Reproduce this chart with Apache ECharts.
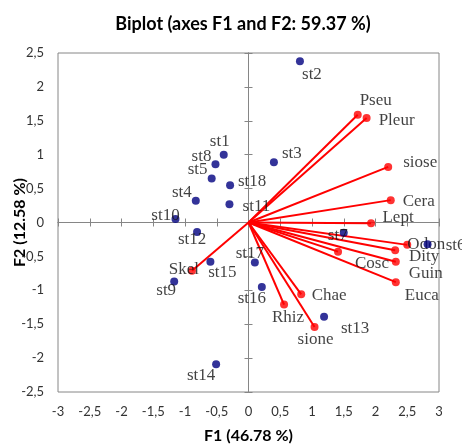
<!DOCTYPE html>
<html>
<head>
<meta charset="utf-8">
<script src="https://cdn.jsdelivr.net/npm/echarts@6/dist/echarts.min.js"></script>
<style>
  html, body { margin: 0; padding: 0; background: #fff; }
  #chart { width: 462px; height: 446px; }
</style>
</head>
<body>
<div id="chart"></div>
<script>
// observations (blue dots)
const stationNames = ['st1', 'st2', 'st3', 'st4', 'st5', 'st6', 'st7', 'st8', 'st9',
  'st10', 'st11', 'st12', 'st13', 'st14', 'st15', 'st16', 'st17', 'st18']
const stationF1 = [-0.39, 0.81, 0.40, -0.83, -0.58, 2.82, 1.50, -0.52, -1.17,
  -1.15, -0.30, -0.81, 1.19, -0.51, -0.60, 0.21, 0.10, -0.29]
const stationF2 = [1.00, 2.38, 0.89, 0.32, 0.65, -0.32, -0.15, 0.86, -0.87,
  0.05, 0.27, -0.14, -1.39, -2.09, -0.58, -0.95, -0.59, 0.55]

// variables (red vectors)
const variableNames = ['Pseu', 'Pleur', 'siose', 'Cera', 'Lept', 'Odon', 'Dity',
  'Cosc', 'Guin', 'Euca', 'Chae', 'Rhiz', 'sione', 'Skel']
const variableF1 = [1.72, 1.86, 2.20, 2.24, 1.93, 2.50, 2.31, 1.41, 2.32, 2.32, 0.83, 0.56, 1.04, -0.89]
const variableF2 = [1.59, 1.54, 0.82, 0.33, -0.01, -0.33, -0.41, -0.43, -0.58, -0.88, -1.06, -1.21, -1.54, -0.71]

// axis ranges
const xRange = [-3, 3]
const yRange = [-2.5, 2.5]
const tickStep = 0.5

// where each label sits relative to its point (px)
const labelOffsets = {
  st1: [-4, -13], st2: [12, 13], st3: [18, -9], st4: [-14, -8], st5: [-14, -9],
  st6: [28, 1], st7: [-6, 3], st8: [-14, -8], st9: [-8, 9], st10: [-10, -4],
  st11: [27, 2], st12: [-5, 8], st13: [31, 12], st14: [-15, 11], st15: [12, 11],
  st16: [-10, 12], st17: [-5, -9], st18: [22, -4],
  Pseu: [18, -14], Pleur: [30, 2], siose: [32, -4], Cera: [28, 1], Lept: [27, -6],
  Odon: [19, 0], Dity: [29, 6], Cosc: [34, 12], Guin: [30, 12], Euca: [26, 13],
  Chae: [28, 1], Rhiz: [4, 13], sione: [1, 13], Skel: [-8, -1]
}

const labelFont = {
  fontFamily: 'Liberation Serif',
  fontSize: 17,
  color: '#111'
}

const nameFont = { fontFamily: 'Lato', fontWeight: 'bold', fontSize: 16, color: '#000' }
const tickFont = { fontFamily: 'Lato', fontSize: 13, color: '#333' }

function fmt(v) {
  return String(v).replace('.', ',')
}

function pointData(names, xs, ys) {
  return names.map((name, i) => ({
    name: name,
    value: [xs[i], ys[i]],
    label: {
      show: true,
      position: 'inside',
      align: 'center',
      verticalAlign: 'middle',
      offset: labelOffsets[name] || [0, 0],
      formatter: name,
      ...labelFont
    }
  }))
}

const vectorData = variableNames.map((name, i) => ({
  coords: [[0, 0], [variableF1[i], variableF2[i]]]
}))

const gray = '#868686'

// zero axes with crossing ticks: one axis with ticks out, one with ticks in
function zeroAxis(range, inside) {
  return {
    type: 'value',
    min: range[0],
    max: range[1],
    interval: tickStep,
    axisLine: { show: true, onZero: true, onZeroAxisIndex: 0, lineStyle: { color: gray, width: 1 } },
    axisTick: { show: true, inside: inside, length: 4, lineStyle: { color: gray } },
    axisLabel: { show: false },
    splitLine: { show: false }
  }
}

const chart = echarts.init(document.getElementById('chart'), null, { renderer: 'canvas' })

chart.setOption({
  animation: false,
  graphic: [{
    type: 'text',
    x: 243,
    y: 24,
    style: {
      text: 'Biplot (axes F1 and F2: 59.37 %)',
      align: 'center',
      verticalAlign: 'middle',
      font: 'bold 18px Lato',
      fill: '#000'
    }
  }],
  grid: {
    left: 58,
    right: 23,
    top: 53,
    bottom: 54,
    outerBoundsMode: 'none',
    show: true,
    borderColor: gray,
    borderWidth: 1,
    backgroundColor: 'transparent'
  },
  xAxis: [
    {
      type: 'value',
      position: 'bottom',
      min: xRange[0],
      max: xRange[1],
      interval: tickStep,
      name: 'F1 (46.78 %)',
      nameLocation: 'middle',
      nameGap: 36,
      nameMoveOverlap: false,
      nameTextStyle: nameFont,
      axisLine: { show: false, onZero: false },
      axisTick: { show: false },
      axisLabel: { margin: 13, formatter: fmt, ...tickFont },
      splitLine: { show: false }
    },
    { ...zeroAxis(xRange, false), position: 'bottom' },
    { ...zeroAxis(xRange, true), position: 'bottom' }
  ],
  yAxis: [
    {
      type: 'value',
      position: 'left',
      min: yRange[0],
      max: yRange[1],
      interval: tickStep,
      name: 'F2 (12.58 %)',
      nameLocation: 'middle',
      nameGap: 30,
      nameMoveOverlap: false,
      nameTextStyle: nameFont,
      axisLine: { show: false, onZero: false },
      axisTick: { show: false },
      axisLabel: { margin: 14, formatter: fmt, ...tickFont },
      splitLine: { show: false }
    },
    { ...zeroAxis(yRange, false), position: 'left' },
    { ...zeroAxis(yRange, true), position: 'left' }
  ],
  series: [
    {
      name: 'vectors',
      type: 'lines',
      coordinateSystem: 'cartesian2d',
      xAxisIndex: 0,
      yAxisIndex: 0,
      symbol: 'none',
      lineStyle: { color: '#ff0000', width: 2, opacity: 1 },
      data: vectorData,
      z: 2
    },
    {
      name: 'variables',
      type: 'scatter',
      xAxisIndex: 0,
      yAxisIndex: 0,
      symbol: 'circle',
      symbolSize: 8,
      itemStyle: { color: '#ff0000' },
      data: pointData(variableNames, variableF1, variableF2),
      z: 3
    },
    {
      name: 'stations',
      type: 'scatter',
      xAxisIndex: 0,
      yAxisIndex: 0,
      symbol: 'circle',
      symbolSize: 8,
      itemStyle: { color: '#00007f' },
      data: pointData(stationNames, stationF1, stationF2),
      z: 4
    }
  ]
})
</script>
</body>
</html>
